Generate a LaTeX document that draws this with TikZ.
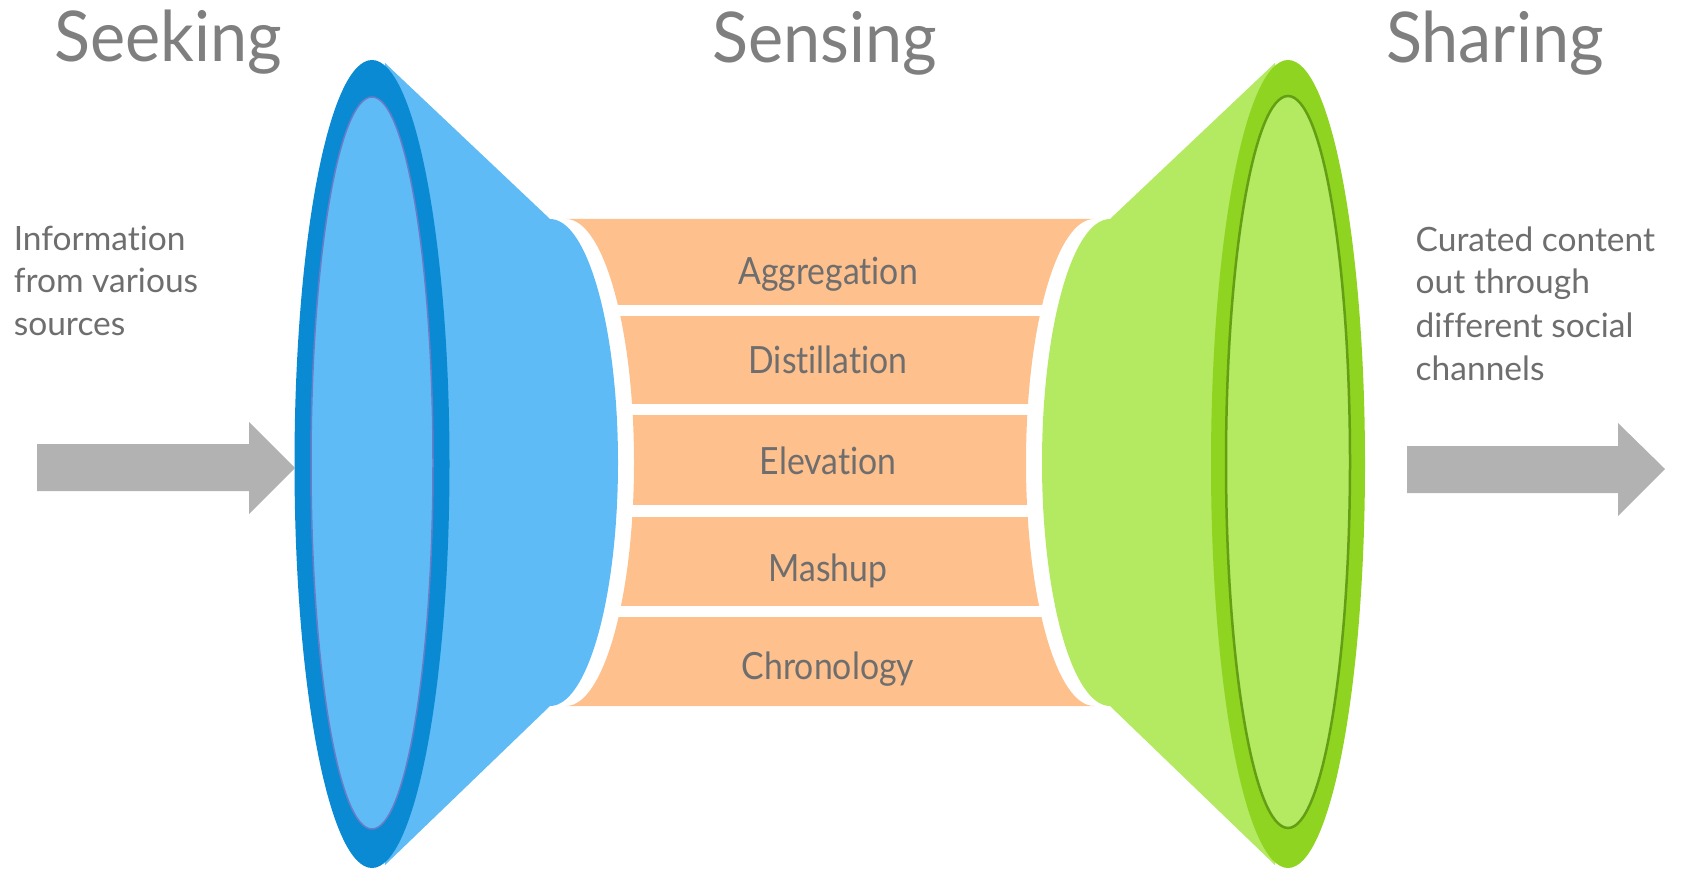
\documentclass[tikz,border=0pt]{standalone}
\usepackage{fontspec}
\setmainfont{Lato}[Ligatures=NoCommon]
\usepackage{graphicx}
\definecolor{blueLight}{HTML}{5EBBF5}
\definecolor{blueRing}{HTML}{0A8AD2}
\definecolor{blueLine}{HTML}{6A7CC8}
\definecolor{greenLight}{HTML}{B4E962}
\definecolor{greenRing}{HTML}{8FD420}
\definecolor{greenLine}{HTML}{639E14}
\definecolor{orangeBand}{HTML}{FEC08C}
\definecolor{arrowGray}{HTML}{B2B2B2}
\definecolor{headGray}{HTML}{7F7F7F}
\definecolor{textGray}{HTML}{6E6E6E}
\newcommand{\hsq}[2]{\scalebox{#1}[1]{#2}}
\tikzset{
  heading/.style={anchor=base west, inner sep=0pt, text=headGray, font=\fontsize{70}{80}\selectfont},
  bandlabel/.style={anchor=base, inner sep=0pt, text=textGray, font=\fontsize{37.5}{45}\selectfont},
  sidetext/.style={anchor=base west, inner sep=0pt, text=textGray, font=\fontsize{33.5}{42}\selectfont},
  gap/.style={fill=white},
  blockarrow/.style={fill=arrowGray}
}
\begin{document}
\begin{tikzpicture}[x=1pt,y=-1pt]
\useasboundingbox (0,0) rectangle (1682,869);
% orange band
\fill[orangeBand] (566,219) -- (1094,219)
  arc[start angle=-90, end angle=-270, x radius=68, y radius=243.5]
  -- (566,706)
  arc[start angle=90, end angle=-90, x radius=68, y radius=243.5] -- cycle;
% white gaps between bands
\fill[gap] (540,305) rectangle (1120,316);
\fill[gap] (540,404) rectangle (1120,415);
\fill[gap] (540,505) rectangle (1120,517);
\fill[gap] (540,606) rectangle (1120,617);
% blue cone
\fill[blueLight] (385,63) -- (550,219)
  arc[start angle=-90, end angle=90, x radius=68, y radius=243.5]
  -- (385,865) -- (372,464) -- cycle;
\fill[blueRing] (372,464) ellipse[x radius=77.5, y radius=404];
\filldraw[fill=blueLight, draw=blueLine, line width=1.5pt] (372,463) ellipse[x radius=61, y radius=366];
% green cone
\fill[greenLight] (1275,63) -- (1110,219)
  arc[start angle=-90, end angle=-270, x radius=68, y radius=243.5]
  -- (1275,865) -- (1288,464) -- cycle;
\fill[greenRing] (1288,464) ellipse[x radius=77, y radius=404];
\filldraw[fill=greenLight, draw=greenLine, line width=2.5pt] (1288,462) ellipse[x radius=62, y radius=366];
% arrows
\fill[blockarrow] (37,444) -- (249,444) -- (249,422) -- (295,468) -- (249,514) -- (249,491) -- (37,491) -- cycle;
\fill[blockarrow] (1407,446) -- (1618,446) -- (1618,423) -- (1665,469) -- (1618,516) -- (1618,493) -- (1407,493) -- cycle;
% headings
\node[heading] (seeking) at (54,62) {\hsq{0.95}{Seeking}};
\node[heading] (sensing) at (712,63) {\hsq{0.95}{Sensing}};
\node[heading] (sharing) at (1386,63) {\hsq{0.95}{Sharing}};
% band labels
\node[bandlabel] (aggr) at (828,284) {\hsq{0.9}{Aggregation}};
\node[bandlabel] (dist) at (828,373) {\hsq{0.9}{Distillation}};
\node[bandlabel] (elev) at (828,474) {\hsq{0.9}{Elevation}};
\node[bandlabel] (mash) at (828,581) {\hsq{0.9}{Mashup}};
\node[bandlabel] (chron) at (828,679) {\hsq{0.9}{Chronology}};
% side texts
\node[sidetext] (in1) at (13.6,251) {Information};
\node[sidetext] (in2) at (13.6,293) {from various};
\node[sidetext] (in3) at (13.6,335) {sources};
\node[sidetext] (out1) at (1415.5,252) {Curated content};
\node[sidetext] (out2) at (1415.5,294) {out through};
\node[sidetext] (out3) at (1415.5,337) {different social};
\node[sidetext] (out4) at (1415.5,380) {channels};
\end{tikzpicture}
\end{document}
